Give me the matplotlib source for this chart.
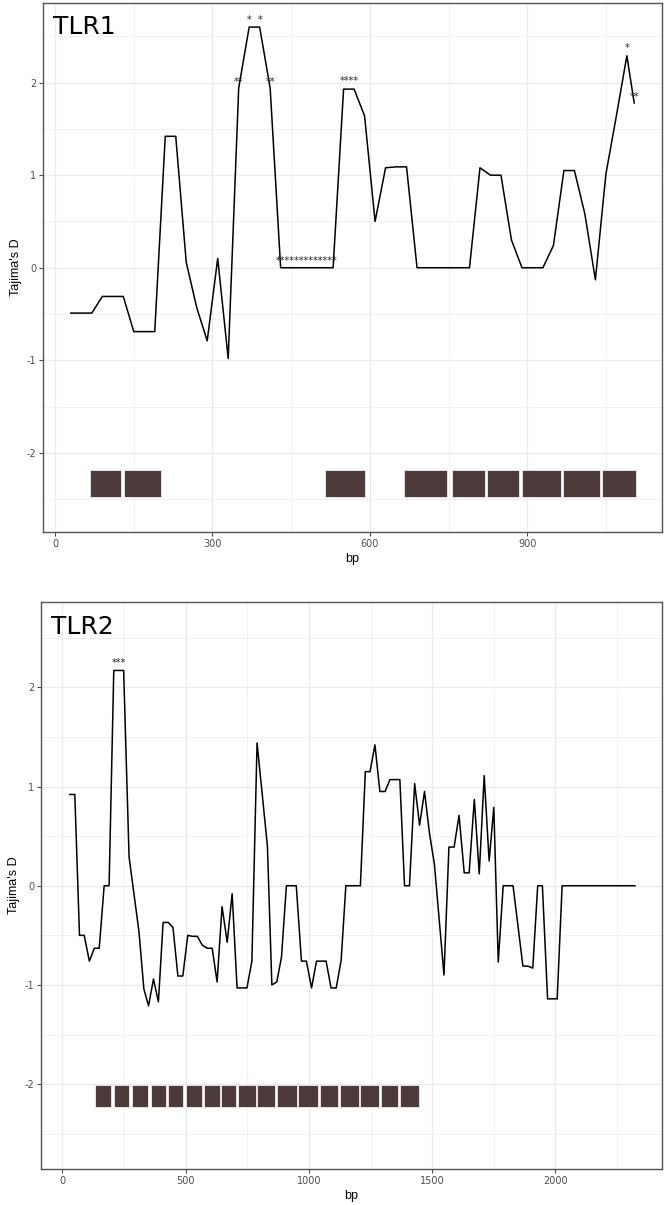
import matplotlib
matplotlib.use('Agg')
import matplotlib.pyplot as plt
from matplotlib.patches import Rectangle

plt.rcParams['axes.unicode_minus'] = False

# TLR1 sliding window Tajima's D
tlr1_bp = [30, 70, 90, 130, 150, 190, 210, 230, 250, 270, 290, 310, 330, 350,
           370, 390, 410, 430, 530, 550, 570, 590, 610, 630, 650, 670, 690, 790,
           810, 830, 850, 870, 890, 930, 950, 970, 990, 1010, 1030, 1050, 1070,
           1090, 1104]
tlr1_d = [-0.49, -0.49, -0.31, -0.31, -0.69, -0.69, 1.42, 1.42, 0.06, -0.43,
          -0.79, 0.10, -0.98, 1.94, 2.60, 2.60, 1.94, 0.0, 0.0, 1.93, 1.93,
          1.64, 0.50, 1.08, 1.09, 1.09, 0.0, 0.0, 1.08, 1.00, 1.00, 0.30, 0.0,
          0.0, 0.24, 1.05, 1.05, 0.58, -0.13, 1.01, 1.64, 2.29, 1.78]
tlr1_star_x = [350, 370, 390, 410, 480, 560, 1091, 1104]
tlr1_star_y = [2.01, 2.68, 2.68, 2.01, 0.07, 2.02, 2.37, 1.85]
tlr1_star_txt = ['**', '*', '*', '**', '*************', '****', '*', '**']
tlr1_box_start = [66, 131, 515, 666, 757, 824, 890, 968, 1043]
tlr1_box_end = [126, 202, 591, 748, 819, 885, 964, 1038, 1107]

# TLR2
tlr2_bp = [31, 51, 70, 89, 110, 130, 150, 170, 190, 209, 249, 271, 311, 331,
           350, 370, 390, 409, 430, 449, 469, 489, 509, 528, 548, 568, 588,
           608, 628, 648, 669, 689, 709, 729, 749, 769, 790, 832, 850, 870,
           889, 909, 949, 970, 990, 1011, 1031, 1070, 1090, 1111, 1131, 1150,
           1209, 1229, 1248, 1268, 1288, 1309, 1329, 1369, 1388, 1408, 1429,
           1449, 1469, 1489, 1509, 1548, 1568, 1589, 1609, 1630, 1650, 1671,
           1691, 1711, 1731, 1750, 1768, 1788, 1828, 1868, 1888, 1908, 1928,
           1947, 1968, 2007, 2027, 2322]
tlr2_d = [0.92, 0.92, -0.50, -0.50, -0.76, -0.63, -0.63, 0.0, 0.0, 2.17,
          2.17, 0.29, -0.46, -1.04, -1.21, -0.94, -1.17, -0.37, -0.37, -0.42,
          -0.91, -0.91, -0.50, -0.51, -0.51, -0.60, -0.63, -0.63, -0.97,
          -0.21, -0.57, -0.08, -1.03, -1.03, -1.03, -0.76, 1.44, 0.40, -1.0,
          -0.97, -0.72, 0.0, 0.0, -0.76, -0.76, -1.03, -0.76, -0.76, -1.03,
          -1.03, -0.75, 0.0, 0.0, 1.15, 1.15, 1.42, 0.95, 0.95, 1.07, 1.07,
          0.0, 0.0, 1.03, 0.61, 0.95, 0.53, 0.22, -0.90, 0.39, 0.39, 0.71,
          0.13, 0.13, 0.87, 0.12, 1.11, 0.25, 0.79, -0.77, 0.0, 0.0, -0.81,
          -0.81, -0.83, 0.0, 0.0, -1.14, -1.14, 0.0, 0.0]
tlr2_star_x = [230]
tlr2_star_y = [2.25]
tlr2_star_txt = ['***']
tlr2_box_start = [132, 208, 282, 358, 427, 500, 576, 644, 713, 791, 870, 957,
                  1045, 1128, 1209, 1291, 1370]
tlr2_box_end = [199, 272, 348, 422, 491, 566, 638, 706, 784, 863, 952, 1036,
                1119, 1202, 1284, 1363, 1446]

box_col = '#4d3a3a'
grid_col = '#ebebeb'
frame_col = '#555555'
tick_col = '#4d4d4d'


def panel(ax, title, x, y, sx, sy, stxt, b0, b1, box_y, xlim, xmaj, xmin):
    ax.set_xlim(*xlim)
    ax.set_ylim(-2.855, 2.86)
    ax.set_xticks(xmaj)
    ax.set_xticks(xmin, minor=True)
    ax.set_yticks([-2, -1, 0, 1, 2])
    ax.set_yticks([-2.5, -1.5, -0.5, 0.5, 1.5, 2.5], minor=True)
    ax.grid(True, which='major', color=grid_col, lw=1.0)
    ax.grid(True, which='minor', color=grid_col, lw=0.5)
    ax.set_axisbelow(True)
    ax.plot(x, y, color='black', lw=1.1, zorder=3)
    for a, b in zip(b0, b1):
        ax.add_patch(Rectangle((a, box_y[0]), b - a, box_y[1] - box_y[0],
                               facecolor=box_col, edgecolor='#f3eeee',
                               lw=0.6, zorder=4))
    for xx, yy, t in zip(sx, sy, stxt):
        ax.text(xx, yy, t, ha='center', va='center', fontsize=7,
                color='#222222', zorder=5)
    ax.text(0.016, 0.977, title, transform=ax.transAxes, ha='left', va='top',
            fontsize=18, family='DejaVu Sans')
    ax.set_xlabel('bp', fontsize=9, family='Liberation Sans', labelpad=3)
    ax.set_ylabel("Tajima's D", fontsize=9, family='Liberation Sans', labelpad=3)
    ax.tick_params(which='major', length=3, width=0.8, color=tick_col,
                   labelsize=7, labelcolor=tick_col, pad=2)
    ax.tick_params(which='minor', length=0)
    for s in ax.spines.values():
        s.set_color(frame_col)
        s.set_linewidth(1.0)


fig = plt.figure(figsize=(6.66, 12.05), dpi=100)
ax1 = fig.add_axes([0.0646, 0.5585, 0.9294, 0.439])
ax2 = fig.add_axes([0.0616, 0.0299, 0.9324, 0.4705])

panel(ax1, 'TLR1', tlr1_bp, tlr1_d, tlr1_star_x, tlr1_star_y, tlr1_star_txt,
      tlr1_box_start, tlr1_box_end, (-2.48, -2.19), (-23, 1157),
      [0, 300, 600, 900], [150, 450, 750, 1050])
panel(ax2, 'TLR2', tlr2_bp, tlr2_d, tlr2_star_x, tlr2_star_y, tlr2_star_txt,
      tlr2_box_start, tlr2_box_end, (-2.23, -2.01), (-86, 2432),
      [0, 500, 1000, 1500, 2000], [250, 750, 1250, 1750, 2250])

fig.savefig('out.png', dpi=100)
